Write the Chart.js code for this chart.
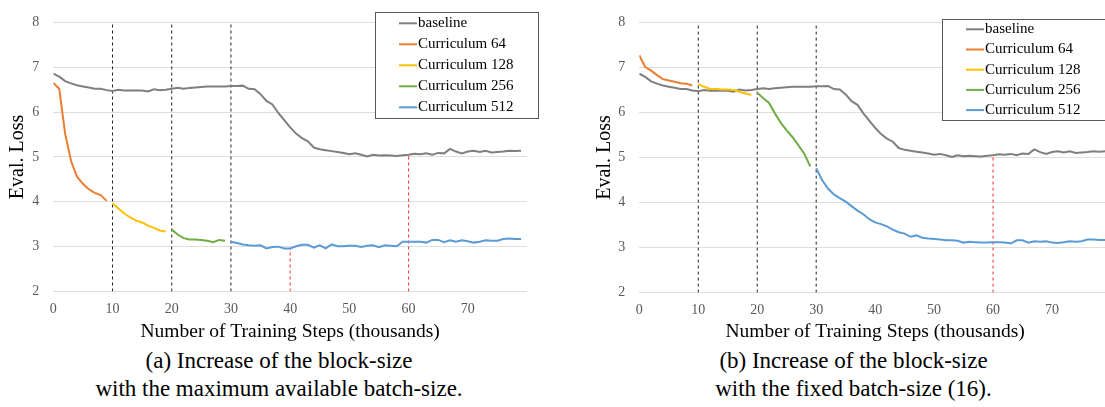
<!DOCTYPE html>
<html>
<head>
<meta charset="utf-8">
<script src="https://cdn.jsdelivr.net/npm/chart.js@4.4.0/dist/chart.umd.min.js"></script>
<style>
    html, body { margin: 0; padding: 0; background: #fff; }
    body { width: 1105px; height: 407px; position: relative; overflow: hidden; font-family: 'Liberation Serif', 'Times New Roman', serif; }
    .panel { position: absolute; top: 0; height: 346px; }
    .caption { position: absolute; top: 346.6px; width: 560px; text-align: center; font-size: 23px; line-height: 28px; color: #000; }
</style>
</head>
<body>
<div class="panel" style="left:0;width:545px"><canvas id="chartA" width="545" height="346"></canvas></div>
<div class="panel" style="left:560px;width:560px"><canvas id="chartB" width="560" height="346"></canvas></div>
<div class="caption" style="left:-1px">(a) Increase of the block-size<br>with the maximum available batch-size.</div>
<div class="caption" style="left:573.5px">(b) Increase of the block-size<br>with the fixed batch-size (16).</div>

<script>
// Training steps (thousands)
const steps = [0, 1, 2, 3, 4, 5, 6, 7, 8, 9, 10, 11, 12, 13, 14, 15, 16, 17, 18, 19,
    20, 21, 22, 23, 24, 25, 26, 27, 28, 29, 30, 31, 32, 33, 34, 35, 36, 37, 38, 39,
    40, 41, 42, 43, 44, 45, 46, 47, 48, 49, 50, 51, 52, 53, 54, 55, 56, 57, 58, 59,
    60, 61, 62, 63, 64, 65, 66, 67, 68, 69, 70, 71, 72, 73, 74, 75, 76, 77, 78, 79];
const xTicks = [0, 10, 20, 30, 40, 50, 60, 70];
const yTicks = [2, 3, 4, 5, 6, 7, 8];

// Baseline (same run in both panels)
const baseline = [6.86, 6.79, 6.69, 6.64, 6.60, 6.57, 6.55, 6.52, 6.52, 6.49,
    6.47, 6.50, 6.48, 6.48, 6.48, 6.48, 6.46, 6.51, 6.49, 6.50,
    6.52, 6.54, 6.52, 6.54, 6.55, 6.56, 6.57, 6.57, 6.57, 6.57,
    6.58, 6.58, 6.59, 6.52, 6.51, 6.40, 6.25, 6.17, 5.98, 5.82,
    5.66, 5.52, 5.42, 5.35, 5.21, 5.17, 5.15, 5.13, 5.11, 5.09,
    5.06, 5.08, 5.05, 5.01, 5.05, 5.03, 5.04, 5.03, 5.02, 5.04,
    5.05, 5.07, 5.06, 5.08, 5.05, 5.09, 5.08, 5.18, 5.12, 5.08,
    5.12, 5.14, 5.11, 5.14, 5.10, 5.11, 5.12, 5.14, 5.13, 5.14];

// Block-size stages start at these steps
const stageStart = [0, 10, 20, 30];

// (a) maximum available batch-size
const cur64A = [6.65, 6.52, 5.52, 4.91, 4.56, 4.40, 4.28, 4.20, 4.15, 4.02];
const cur128A = [3.97, 3.85, 3.74, 3.65, 3.58, 3.54, 3.47, 3.42, 3.36, 3.34];
const cur256A = [3.38, 3.27, 3.19, 3.16, 3.16, 3.15, 3.13, 3.10, 3.15, 3.13];
const cur512A = [3.11, 3.08, 3.05, 3.03, 3.02, 3.03, 2.96, 2.99, 3.00, 2.96,
    2.96, 3.01, 3.04, 3.04, 2.98, 3.03, 2.96, 3.05, 3.01, 3.01,
    3.02, 3.02, 2.99, 3.02, 3.03, 2.99, 3.03, 3.02, 3.01, 3.11,
    3.11, 3.11, 3.11, 3.09, 3.15, 3.15, 3.10, 3.14, 3.11, 3.14,
    3.12, 3.09, 3.11, 3.14, 3.13, 3.13, 3.17, 3.18, 3.17, 3.17];

// (b) fixed batch-size (16)
const cur64B = [7.27, 7.01, 6.93, 6.83, 6.74, 6.71, 6.68, 6.65, 6.64, 6.60];
const cur128B = [6.63, 6.57, 6.52, 6.52, 6.51, 6.51, 6.50, 6.46, 6.42, 6.39];
const cur256B = [6.44, 6.32, 6.21, 5.98, 5.77, 5.60, 5.45, 5.27, 5.08, 4.80];
const cur512B = [4.76, 4.50, 4.31, 4.18, 4.10, 4.02, 3.92, 3.82, 3.74, 3.63,
    3.56, 3.52, 3.47, 3.40, 3.34, 3.31, 3.24, 3.27, 3.22, 3.20,
    3.19, 3.18, 3.16, 3.16, 3.15, 3.11, 3.13, 3.12, 3.11, 3.11,
    3.12, 3.12, 3.11, 3.09, 3.16, 3.16, 3.11, 3.14, 3.13, 3.14,
    3.11, 3.10, 3.12, 3.14, 3.13, 3.14, 3.18, 3.18, 3.17, 3.17];

// Dashed markers
const phaseSteps = [10, 20, 30];
const redStepsA = [40, 60];
const redTopsA = [cur512A[10], baseline[60]];
const redStepsB = [60];
const redTopsB = [baseline[60]];

const seriesLabels = ['baseline', 'Curriculum 64', 'Curriculum 128', 'Curriculum 256', 'Curriculum 512'];
const seriesColors = ['#7f7f7f', '#ed7d31', '#ffc000', '#70ad47', '#5b9bd5'];

const FONT = "'Liberation Serif', 'Times New Roman', serif";

// Legend drawn as a framed box inside the plot, like the original figure
const boxLegend = {
    id: 'boxLegend',
    afterDraw(chart, args, opts) {
        const ctx = chart.ctx;
        ctx.save();
        ctx.fillStyle = '#fff';
        ctx.fillRect(opts.x, opts.y, opts.w, opts.h);
        ctx.strokeStyle = '#595959';
        ctx.lineWidth = 1;
        ctx.strokeRect(opts.x + 0.5, opts.y + 0.5, opts.w, opts.h);
        ctx.font = '15px ' + FONT;
        ctx.textBaseline = 'middle';
        chart.data.datasets.filter(d => d.inLegend).forEach((d, i) => {
            const y = opts.rowTop + i * opts.rowGap;
            ctx.strokeStyle = d.borderColor;
            ctx.lineWidth = 2;
            ctx.beginPath();
            ctx.moveTo(opts.x + 24, y);
            ctx.lineTo(opts.x + 42, y);
            ctx.stroke();
            ctx.fillStyle = '#000';
            ctx.fillText(d.label, opts.x + 43, y);
        });
        ctx.restore();
    }
};

function seriesPoints(values, start) {
    return values.map((v, i) => ({ x: steps[start + i], y: v }));
}

function vLine(step, top, color) {
    return {
        data: [{ x: step, y: yTicks[0] }, { x: step, y: top }],
        borderColor: color,
        borderWidth: 1,
        borderDash: [3, 3],
        pointRadius: 0,
        order: 10
    };
}

function buildChart(id, curves, redSteps, redTops, cfg) {
    const datasets = [];
    datasets.push({
        label: seriesLabels[0], inLegend: true,
        data: seriesPoints(baseline, 0),
        borderColor: seriesColors[0], borderWidth: 2, pointRadius: 0, order: 5
    });
    curves.forEach((c, i) => {
        datasets.push({
            label: seriesLabels[i + 1], inLegend: true,
            data: seriesPoints(c, stageStart[i]),
            borderColor: seriesColors[i + 1], borderWidth: 2, pointRadius: 0, order: 1 + i
        });
    });
    phaseSteps.forEach(s => datasets.push(vLine(s, yTicks[yTicks.length - 1], '#222')));
    redSteps.forEach((s, i) => datasets.push(vLine(s, redTops[i], '#ff2a2a')));

    new Chart(document.getElementById(id), {
        type: 'line',
        data: { datasets: datasets },
        options: {
            responsive: false,
            animation: false,
            devicePixelRatio: 1,
            layout: { padding: cfg.padding },
            plugins: {
                legend: { display: false },
                tooltip: { enabled: false },
                boxLegend: cfg.legend
            },
            scales: {
                x: {
                    type: 'linear',
                    min: 0,
                    max: 80,
                    afterBuildTicks: s => { s.ticks = xTicks.map(v => ({ value: v })); },
                    afterFit: s => { s.height = cfg.xHeight; },
                    grid: { display: false, drawTicks: false },
                    border: { display: false },
                    ticks: { color: '#595959', padding: 9, maxRotation: 0, font: { family: FONT, size: 14 } },
                    title: {
                        display: true,
                        text: 'Number of Training Steps (thousands)',
                        color: '#000',
                        padding: { top: 4, bottom: 2 },
                        font: { family: FONT, size: 19.5 }
                    }
                },
                y: {
                    min: 2,
                    max: 8,
                    afterBuildTicks: s => { s.ticks = yTicks.map(v => ({ value: v })); },
                    afterFit: s => { s.width = cfg.yWidth; },
                    grid: { color: '#dedede', lineWidth: 1, drawTicks: false },
                    border: { display: false },
                    ticks: { color: '#595959', padding: 14, font: { family: FONT, size: 14 } },
                    title: {
                        display: true,
                        text: 'Eval. Loss',
                        color: '#000',
                        padding: { top: cfg.yTitlePad, bottom: 4 },
                        font: { family: FONT, size: 20 }
                    }
                }
            }
        },
        plugins: [boxLegend]
    });
}

buildChart('chartA', [cur64A, cur128A, cur256A, cur512A], redStepsA, redTopsA, {
    padding: { left: 0, right: 18, top: 10.5, bottom: 0 },
    yWidth: 53.3,
    xHeight: 54.5,
    yTitlePad: 6,
    legend: { x: 375, y: 12, w: 163, h: 106, rowTop: 23.3, rowGap: 21 }
});

buildChart('chartB', [cur64B, cur128B, cur256B, cur512B], redStepsB, redTopsB, {
    padding: { left: 29, right: 9, top: 13.7, bottom: 0 },
    yWidth: 50.3,
    xHeight: 53.4,
    yTitlePad: 4,
    legend: { x: 382, y: 19, w: 163, h: 101, rowTop: 29.3, rowGap: 20.2 }
});
</script>
</body>
</html>
